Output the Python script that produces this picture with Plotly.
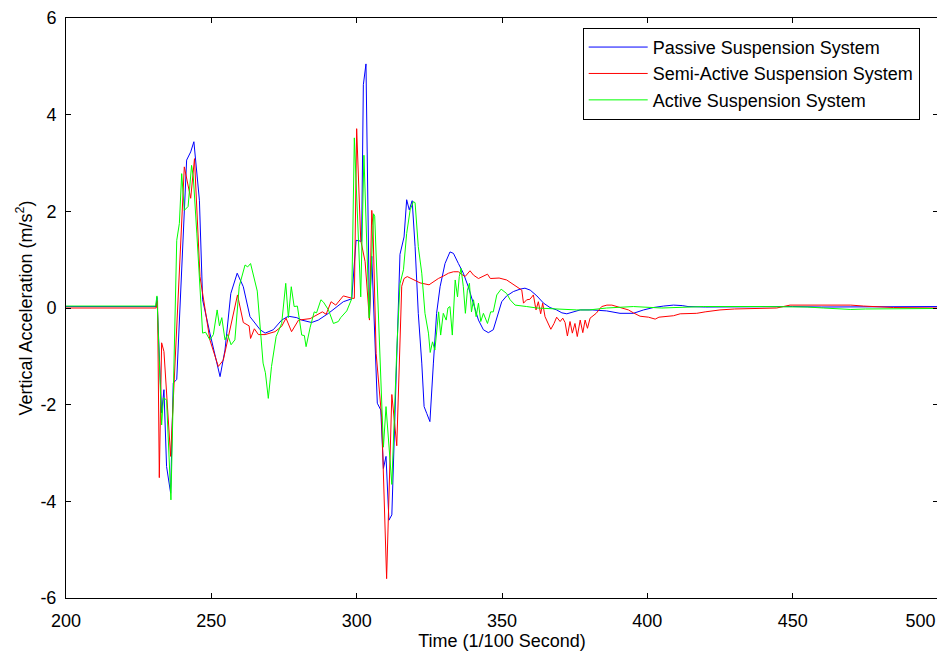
import plotly.graph_objects as go

# Passive suspension (blue)
passive_t = [200, 231, 231.3, 232.9, 233.7, 234.6, 236.0, 236.9, 238.1, 241.5, 242.9, 244.0, 245.9, 247.0,
	249.5, 253.0, 254.7, 256.7, 258.9, 261.0, 263.3, 266.8, 268.5, 271.3, 274.2, 276.5, 279.4, 281.1,
	284.5, 286.8, 290.3, 295.4, 298.3, 299.8, 301.7, 302.3, 303.2, 304.4, 305.2, 307.1, 308.3, 309.2,
	310.1, 311.1, 312.1, 314.9, 316.3, 317.2, 318.1, 319.1, 320.1, 321.2, 322.4, 323.2, 324.1, 325.2,
	326.4, 327.5, 328.7, 330.4, 332.1, 333.3, 335.0, 336.7, 338.4, 340.2, 341.9, 343.6, 345.3, 347.0,
	348.8, 349.9, 351.6, 353.9, 356.2, 357.9, 359.7, 362.0, 364.3, 366.5, 368.8, 370.6, 372.3, 376.9,
	381, 386, 390.6, 395.2, 398.7, 402.1, 405.6, 409, 412, 414, 420, 440, 450, 460, 470, 480, 500]
passive_a = [0.03, 0.03, 0.22, -2.17, -1.69, -3.28, -3.83, -1.55, -1.48, 3.06, 3.23, 3.44, 2.23, 0.17,
	-0.52, -1.42, -0.87, 0.3, 0.72, 0.44, -0.18, -0.45, -0.52, -0.45, -0.25, -0.17, -0.2, -0.25,
	-0.3, -0.25, -0.11, 0.13, 0.19, 1.4, 1.38, 4.62, 5.05, -0.21, 1.07, -1.97, -2.11, -3.32,
	-3.07, -4.39, -4.28, 1.11, 1.47, 2.24, 2.03, 2.22, 1.27, -0.11, -1.14, -2.04, -2.18, -2.35,
	-1.14, -0.11, 0.44, 0.92, 1.16, 1.13, 0.92, 0.72, 0.44, 0.1, -0.25, -0.45, -0.51, -0.45,
	-0.1, 0.13, 0.25, 0.34, 0.39, 0.41, 0.37, 0.25, 0.1, 0.01, -0.04, -0.1, -0.12, -0.04,
	-0.04, -0.06, -0.11, -0.11, -0.04, 0.01, 0.04, 0.06, 0.05, 0.03, 0.02, 0.03, 0.03, 0.02, 0.02, 0.03, 0.03]

# Semi-active suspension (red)
semi_t = [200, 231, 231.5, 232.1, 232.9, 233.7, 236.0, 240.7, 242.9, 244.2, 246.1, 249.5, 252.4, 254.1,
	259.0, 261.0, 263.0, 263.5, 264.8, 266.2, 268.5, 271.9, 274.2, 275.7, 277.6, 280.0, 284.0, 288.2,
	289.5, 291.2, 292.8, 295.4, 298.5, 299.2, 300.0, 301.4, 302.9, 304.4, 305.2, 305.6, 306.7, 307.8,
	308.6, 310.3, 312.1, 313.8, 315.5, 316.3, 317.4, 320.1, 321.8, 324.9, 326.4, 328.1, 329.8, 331.6,
	333.3, 335.0, 336.0, 337.3, 339.0, 340.2, 341.9, 343.2, 345.0, 346.0, 349, 351.6, 353.4, 355.1,
	356.8, 357.4, 358.5, 359.6, 360.8, 361.7, 362.5, 363.3, 364.0, 364.8, 365.6, 366.8, 367.9, 368.8,
	370.0, 370.9, 371.7, 372.5, 373.4, 374.2, 375.1, 375.9, 376.9, 377.8, 378.6, 379.4, 380.3, 381.5,
	382.4, 384.3, 386.1, 387.8, 390, 393.5, 395.2, 397.5, 400.4, 402.7, 404, 406.7, 409, 411.3,
	414, 417, 419.9, 425, 430, 444.5, 449.1, 460, 470, 474.4, 484.7, 500]
semi_a = [0.0, 0.0, 0.15, -3.51, -0.72, -0.9, -3.07, 2.92, 2.27, 3.09, 0.65, -0.66, -1.21, -1.08,
	0.27, -0.3, -0.37, -0.63, -0.43, -0.55, -0.55, -0.49, -0.38, -0.21, -0.49, -0.25, -0.22, -0.08,
	-0.13, 0.13, 0.06, 0.25, 0.2, 0.2, 3.71, 1.4, 0.96, -0.25, 2.02, 1.7, -0.94, -1.82,
	-2.26, -5.6, -1.79, -2.85, 0.45, 0.61, 0.65, 0.57, 0.52, 0.48, 0.55, 0.61, 0.66, 0.72,
	0.75, 0.75, 0.7, 0.65, 0.77, 0.68, 0.61, 0.65, 0.7, 0.61, 0.62, 0.58, 0.51, 0.44,
	0.37, 0.1, 0.17, 0.18, 0.27, -0.04, 0.13, -0.12, 0.1, -0.18, -0.28, -0.44, -0.32, -0.19,
	-0.28, -0.21, -0.3, -0.58, -0.28, -0.52, -0.32, -0.59, -0.25, -0.51, -0.25, -0.42, -0.21, -0.15,
	-0.11, 0.03, 0.06, 0.06, 0.02, -0.04, -0.1, -0.17, -0.19, -0.23, -0.19, -0.18, -0.16, -0.12,
	-0.12, -0.11, -0.08, -0.04, -0.02, 0.0, 0.06, 0.06, 0.06, 0.04, 0.01, 0.0]

# Active suspension (green)
active_t = [200, 230.8, 231.3, 232.9, 233.5, 234.6, 236.1, 238.1, 239.0, 239.8, 240.7, 242.0, 243.2, 243.8,
	245.0, 247.0, 248.0, 249.5, 250.7, 252.0, 252.8, 253.6, 254.7, 255.6, 256.8, 258.1, 259.6, 261.6,
	262.5, 263.5, 265.8, 267.8, 268.6, 269.6, 270.7, 272.3, 274.2, 275.6, 276.5, 277.5, 278.5, 279.6,
	281.1, 282.0, 282.6, 284.0, 285.4, 286.2, 287.7, 288.6, 290.3, 292.0, 293.7, 294.5, 296.6, 298.3,
	299.2, 301.4, 302.5, 304.3, 305.8, 306.2, 309.2, 310.1, 312.1, 313.8, 314.9, 316.1, 317.2, 318.4,
	319.5, 320.1, 321.2, 322.4, 323.5, 324.7, 325.3, 326.1, 326.9, 327.5, 328.2, 328.9, 329.8, 330.8,
	331.4, 332.1, 332.9, 333.9, 334.7, 335.3, 335.9, 336.7, 337.4, 338.1, 338.8, 339.5, 340.2, 341.1,
	341.9, 342.7, 343.6, 345.0, 346.1, 347.0, 348.2, 349.7, 350.6, 351.6, 352.8, 354.5, 358.5, 362,
	375.7, 380, 386, 390.6, 395.2, 405, 419.3, 440, 455, 460.6, 470, 475, 500]
active_a = [0.04, 0.04, 0.25, -2.42, -1.86, -1.9, -3.97, 1.4, 1.75, 2.78, 2.02, 2.1, 2.95, 2.71,
	1.55, -0.52, -0.5, -0.66, -0.55, -0.04, -0.37, -0.2, -0.66, -0.55, -0.76, -0.66, 0.45, 0.89,
	0.85, 0.92, 0.35, -1.14, -1.34, -1.87, -1.21, -0.59, -0.32, 0.51, -0.2, 0.44, 0.03, 0.04,
	-0.56, -0.57, -0.8, -0.4, -0.08, -0.1, 0.17, 0.12, -0.04, -0.32, -0.28, -0.2, -0.06, 0.19,
	3.52, 0.23, 3.16, -0.21, 1.95, 1.9, -2.88, -2.04, -3.65, -0.87, 0.5, 0.79, 1.54, 2.03,
	2.2, 2.18, 1.27, 0.72, -0.11, -0.52, -0.92, -0.7, -0.87, -0.45, -0.08, -0.56, -0.11, -0.25,
	0.0, 0.03, -0.56, 0.58, 0.23, 0.65, 0.82, 0.44, -0.11, 0.37, 0.51, -0.08, 0.17, -0.18,
	0.1, -0.28, -0.11, -0.32, -0.08, -0.08, 0.27, 0.39, 0.34, 0.3, 0.17, 0.06, 0.03, 0.0,
	-0.04, -0.04, 0.0, 0.01, 0.03, 0.0, 0.03, 0.03, 0.02, 0.0, -0.03, -0.02, -0.01]

x_ticks = [200, 250, 300, 350, 400, 450, 500]
x_tick_text = ['200', '250', '300', '350', '400', '450', '500' + '\u00a0' * 7]
y_ticks = [-6, -4, -2, 0, 2, 4, 6]
y_tick_text = ['-6', '-4', '-2', '0', '2', '4', '6']

FONT = 'Liberation Sans, Arial, sans-serif'

fig = go.Figure()
fig.add_trace(go.Scatter(x=passive_t, y=passive_a, mode='lines', name='Passive Suspension System',
	line=dict(color='#0000FF', width=1)))
fig.add_trace(go.Scatter(x=semi_t, y=semi_a, mode='lines', name='Semi-Active Suspension System',
	line=dict(color='#FF0000', width=1)))
fig.add_trace(go.Scatter(x=active_t, y=active_a, mode='lines', name='Active Suspension System',
	line=dict(color='#00FF00', width=1)))

axis_style = dict(
	showline=True, linecolor='black', linewidth=1, mirror='ticks',
	ticks='inside', ticklen=5, tickcolor='black', tickwidth=1,
	showgrid=False, zeroline=False, automargin=False,
	tickfont=dict(family=FONT, size=18, color='black'),
)
fig.update_xaxes(range=[200, 500], tickvals=x_ticks, ticktext=x_tick_text, ticklabeloverflow='allow',
	ticklabelstandoff=6,
	title=dict(text='Time (1/100 Second)', font=dict(family=FONT, size=18, color='black'), standoff=2),
	**axis_style)
fig.update_yaxes(range=[-6, 6], tickvals=y_ticks, ticktext=y_tick_text,
	ticklabelstandoff=5,
	title=dict(text='Vertical Acceleration (m/s<sup>2</sup>)', font=dict(family=FONT, size=18, color='black'), standoff=3),
	**axis_style)

# the page body has an 8px margin, so the figure is sized to fit the window with it
fig.update_layout(
	width=937, height=646,
	margin=dict(l=58, r=7, t=10, b=56),
	paper_bgcolor='white', plot_bgcolor='white',
	showlegend=True,
	legend=dict(
		x=0.979, y=0.983, xanchor='right', yanchor='top',
		bgcolor='white', bordercolor='black', borderwidth=1,
		font=dict(family=FONT, size=18, color='black'),
		tracegroupgap=0, itemwidth=59,
	),
)
fig.write_html("out.html")
